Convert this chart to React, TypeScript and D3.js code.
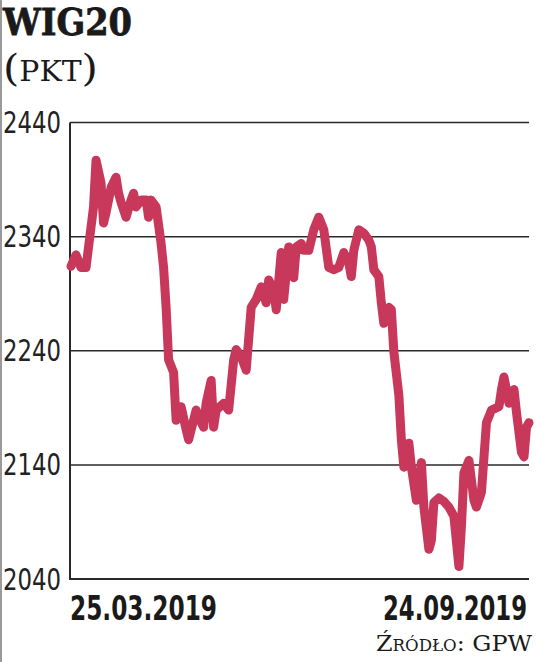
import * as d3 from "d3";

// WIG20 daily close, 25.03.2019 - 24.09.2019
const startDate = new Date(2019, 2, 25);
const endDate = new Date(2019, 8, 24);

const dayOffsets = [
  0, 2, 4, 6, 9, 10, 12, 13, 14, 16, 18, 19, 20, 22, 24, 25, 26, 28, 30, 31,
  32, 34, 36, 37, 38, 39, 41, 42, 44, 46, 47, 50, 51, 53, 54, 56, 57, 58, 61, 63,
  65, 66, 68, 70, 72, 74, 76, 78, 79, 81, 82, 84, 85, 87, 89, 90, 92, 93, 95, 97,
  99, 101, 103, 105, 107, 109, 111, 112, 113, 115, 117, 119, 120, 121, 123, 124, 125, 127, 128, 129,
  131, 132, 133, 135, 136, 138, 140, 141, 143, 144, 145, 147, 149, 151, 153, 155, 156, 157, 159, 161,
  162, 164, 166, 168, 171, 172, 173, 175, 177, 178, 180, 181, 182, 183,
];

const values = [
  2314, 2324, 2313, 2313, 2366, 2407, 2387, 2352, 2361, 2383, 2392, 2378, 2370, 2357, 2372, 2378, 2366, 2372, 2372, 2357,
  2372, 2366, 2334, 2313, 2278, 2232, 2221, 2179, 2191, 2171, 2162, 2188, 2182, 2173, 2194, 2214, 2173, 2188, 2194, 2188,
  2232, 2241, 2235, 2223, 2278, 2285, 2296, 2282, 2302, 2293, 2276, 2326, 2285, 2331, 2304, 2331, 2334, 2328, 2328, 2346,
  2357, 2346, 2313, 2311, 2313, 2326, 2317, 2305, 2328, 2346, 2343, 2337, 2331, 2311, 2305, 2282, 2264, 2278, 2276, 2239,
  2201, 2162, 2138, 2159, 2138, 2109, 2142, 2103, 2066, 2074, 2107, 2111, 2108, 2103, 2095, 2051, 2086, 2133, 2144, 2109,
  2103, 2116, 2177, 2188, 2191, 2206, 2217, 2194, 2206, 2186, 2151, 2147, 2173, 2177,
];

const yTicks = [2040, 2140, 2240, 2340, 2440];
const dateLabels = ["25.03.2019", "24.09.2019"];

const narrow = "'Liberation Sans Narrow', 'DejaVu Sans Condensed', 'Roboto', sans-serif";
const serif = "'DejaVu Serif', 'Liberation Serif', serif";

export default function App() {
  const width = 536;
  const height = 662;
  const plotLeft = 70;
  const plotRight = 529;
  const plotTop = 122.5;
  const plotBottom = 579;

  const x = d3.scaleTime([startDate, endDate], [71, plotRight]);
  const y = d3.scaleLinear([2040, 2440], [plotBottom, plotTop]);

  const points = dayOffsets.map((d, i) => [d3.timeDay.offset(startDate, d), values[i]]);

  const line = d3
    .line()
    .x((p) => x(p[0]))
    .y((p) => y(p[1]));

  return (
    <svg
      width={width}
      height={height}
      style={{ position: "absolute", left: 0, top: 0, background: "#fff" }}
    >
      <rect width={width} height={height} fill="#fff" />
      {/* grey edge of the page */}
      <line x1={1} x2={1} y1={0} y2={height} stroke="#9a9a9a" strokeWidth={2} />

      <text
        x={3}
        y={35}
        fontFamily={serif}
        fontWeight="bold"
        fontSize={37}
        fill="#1a1a1a"
        stroke="#1a1a1a"
        strokeWidth={0.8}
        textLength={129}
        lengthAdjust="spacingAndGlyphs"
      >
        WIG20
      </text>
      <text
        x={3}
        y={81}
        fontFamily={serif}
        fill="#1a1a1a"
        textLength={95}
        lengthAdjust="spacingAndGlyphs"
      >
        <tspan fontSize={38}>(</tspan>
        <tspan fontSize={27}>PKT</tspan>
        <tspan fontSize={38}>)</tspan>
      </text>

      {yTicks.map((t) => (
        <g key={t}>
          <line
            x1={plotLeft}
            x2={plotRight}
            y1={y(t)}
            y2={y(t)}
            stroke="#2a2a2a"
            strokeWidth={t === 2040 ? 2 : 1.5}
          />
          <text
            x={3}
            y={y(t) + 10.5}
            fontFamily={narrow}
            fontWeight={300}
            fontSize={31}
            fill="#222"
            textLength={58}
            lengthAdjust="spacingAndGlyphs"
          >
            {t}
          </text>
        </g>
      ))}
      <line x1={plotLeft} x2={plotLeft} y1={plotTop} y2={plotBottom + 1} stroke="#2a2a2a" strokeWidth={2} />

      <path
        d={line(points)}
        fill="none"
        stroke="#c8385b"
        strokeWidth={9}
        strokeLinejoin="round"
        strokeLinecap="round"
      />

      <text
        x={plotLeft}
        y={620}
        fontFamily={narrow}
        fontWeight="bold"
        fontSize={34}
        fill="#1a1a1a"
        textLength={147}
        lengthAdjust="spacingAndGlyphs"
      >
        {dateLabels[0]}
      </text>
      <text
        x={383}
        y={620}
        fontFamily={narrow}
        fontWeight="bold"
        fontSize={34}
        fill="#1a1a1a"
        textLength={144}
        lengthAdjust="spacingAndGlyphs"
      >
        {dateLabels[1]}
      </text>

      <text
        x={376}
        y={651}
        fontFamily={serif}
        fontSize={23}
        fill="#1a1a1a"
        textLength={156}
        lengthAdjust="spacingAndGlyphs"
        style={{ fontVariant: "small-caps" }}
      >
        Źródło: GPW
      </text>
    </svg>
  );
}
